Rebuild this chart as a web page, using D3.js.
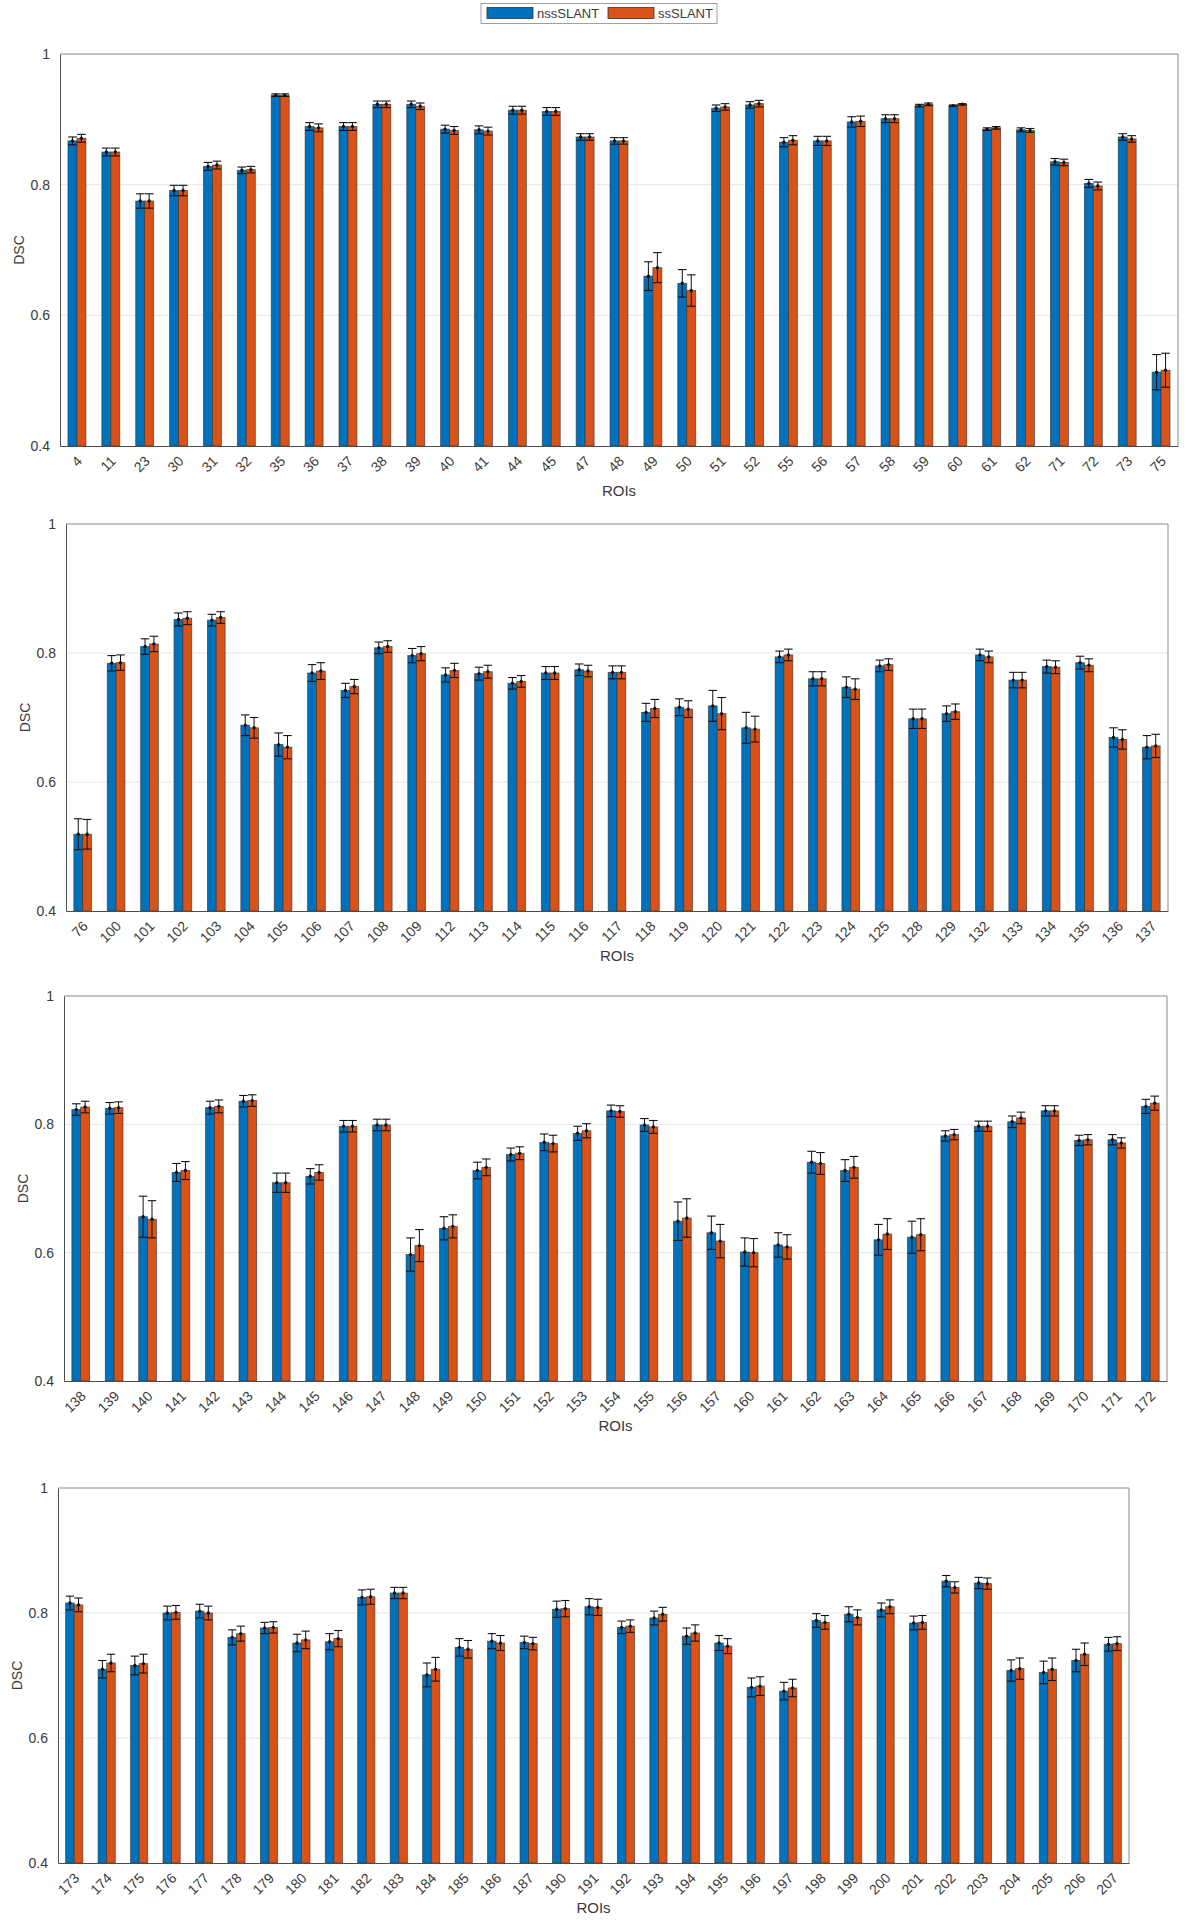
<!DOCTYPE html>
<html>
<head>
<meta charset="utf-8">
<script src="https://cdn.jsdelivr.net/npm/d3@7"></script>
<style>
  html, body { margin: 0; padding: 0; background: #fff; }
  svg { display: block; font-family: "Liberation Sans", Arial, Helvetica, sans-serif; }
</style>
</head>
<body>
<svg id="chart" width="1187" height="1920"></svg>
<script>
// ---------------- data ----------------
const seriesNames = ["nssSLANT", "ssSLANT"];
const yTicks = [0.4, 0.6, 0.8, 1];

const roisP1 = ["4","11","23","30","31","32","35","36","37","38","39","40","41","44","45","47","48","49","50","51","52","55","56","57","58","59","60","61","62","71","72","73","75"];
const nssP1  = [0.867,0.850,0.775,0.791,0.828,0.822,0.937,0.889,0.889,0.923,0.923,0.885,0.884,0.914,0.912,0.873,0.867,0.660,0.649,0.917,0.922,0.865,0.867,0.896,0.901,0.921,0.921,0.885,0.884,0.835,0.802,0.873,0.513];
const ssP1   = [0.871,0.850,0.775,0.791,0.830,0.823,0.937,0.887,0.889,0.923,0.920,0.883,0.882,0.914,0.912,0.873,0.867,0.673,0.638,0.919,0.924,0.868,0.867,0.897,0.901,0.923,0.923,0.887,0.883,0.834,0.798,0.870,0.516];
const nssErrP1 = [0.006,0.006,0.011,0.008,0.006,0.005,0.002,0.006,0.006,0.005,0.005,0.006,0.006,0.006,0.006,0.005,0.005,0.022,0.021,0.005,0.005,0.007,0.007,0.008,0.006,0.002,0.001,0.002,0.003,0.005,0.006,0.005,0.027];
const ssErrP1  = [0.006,0.006,0.011,0.008,0.006,0.005,0.002,0.006,0.006,0.005,0.005,0.006,0.006,0.006,0.006,0.005,0.005,0.023,0.024,0.005,0.005,0.007,0.007,0.008,0.006,0.002,0.001,0.002,0.003,0.005,0.006,0.005,0.026];

const roisP2 = ["76","100","101","102","103","104","105","106","107","108","109","112","113","114","115","116","117","118","119","120","121","122","123","124","125","128","129","132","133","134","135","136","137"];
const nssP2  = [0.519,0.784,0.810,0.852,0.851,0.688,0.658,0.769,0.742,0.808,0.796,0.766,0.768,0.753,0.769,0.774,0.770,0.708,0.716,0.718,0.684,0.794,0.760,0.747,0.780,0.698,0.706,0.797,0.758,0.779,0.785,0.669,0.654];
const ssP2   = [0.519,0.785,0.814,0.854,0.855,0.684,0.654,0.772,0.748,0.810,0.799,0.773,0.771,0.756,0.769,0.772,0.770,0.714,0.713,0.706,0.682,0.797,0.760,0.744,0.782,0.698,0.709,0.794,0.758,0.778,0.781,0.666,0.656];
const nssErrP2 = [0.024,0.012,0.012,0.010,0.009,0.016,0.018,0.013,0.011,0.009,0.011,0.011,0.010,0.009,0.010,0.009,0.010,0.014,0.013,0.024,0.024,0.009,0.011,0.016,0.009,0.015,0.012,0.009,0.012,0.010,0.010,0.015,0.018];
const ssErrP2  = [0.023,0.012,0.012,0.010,0.009,0.016,0.018,0.013,0.011,0.009,0.011,0.011,0.010,0.009,0.010,0.009,0.010,0.014,0.013,0.025,0.020,0.009,0.011,0.016,0.009,0.015,0.012,0.009,0.012,0.010,0.010,0.015,0.018];

const roisP3 = ["138","139","140","141","142","143","144","145","146","147","148","149","150","151","152","153","154","155","156","157","160","161","162","163","164","165","166","167","168","169","170","171","172"];
const nssP3  = [0.823,0.825,0.656,0.725,0.826,0.836,0.709,0.719,0.797,0.799,0.597,0.638,0.728,0.753,0.772,0.786,0.821,0.799,0.649,0.631,0.601,0.612,0.741,0.728,0.620,0.624,0.782,0.797,0.804,0.821,0.775,0.776,0.828];
const ssP3   = [0.827,0.826,0.652,0.728,0.828,0.837,0.709,0.725,0.797,0.799,0.611,0.641,0.733,0.755,0.770,0.790,0.820,0.796,0.654,0.618,0.600,0.609,0.739,0.733,0.629,0.628,0.784,0.797,0.810,0.821,0.776,0.771,0.833];
const nssErrP3 = [0.009,0.009,0.032,0.014,0.010,0.009,0.015,0.012,0.009,0.009,0.026,0.018,0.013,0.010,0.013,0.011,0.009,0.010,0.030,0.026,0.022,0.019,0.017,0.017,0.024,0.025,0.008,0.008,0.009,0.008,0.008,0.008,0.011];
const ssErrP3  = [0.009,0.009,0.029,0.014,0.010,0.009,0.015,0.012,0.009,0.009,0.025,0.018,0.013,0.010,0.013,0.011,0.009,0.010,0.030,0.026,0.022,0.019,0.017,0.017,0.024,0.025,0.008,0.008,0.009,0.008,0.008,0.008,0.011];

const roisP4 = ["173","174","175","176","177","178","179","180","181","182","183","184","185","186","187","190","191","192","193","194","195","196","197","198","199","200","201","202","203","204","205","206","207"];
const nssP4  = [0.816,0.710,0.716,0.800,0.803,0.761,0.776,0.752,0.754,0.825,0.832,0.701,0.745,0.755,0.753,0.806,0.810,0.777,0.792,0.763,0.752,0.681,0.675,0.788,0.798,0.805,0.784,0.851,0.848,0.708,0.705,0.724,0.750];
const ssP4   = [0.813,0.720,0.719,0.801,0.800,0.767,0.777,0.757,0.759,0.826,0.832,0.710,0.742,0.752,0.751,0.807,0.809,0.779,0.798,0.768,0.747,0.683,0.680,0.785,0.793,0.810,0.785,0.841,0.847,0.711,0.710,0.734,0.751];
const nssErrP4 = [0.011,0.014,0.015,0.011,0.011,0.012,0.009,0.014,0.013,0.012,0.009,0.019,0.014,0.012,0.010,0.013,0.013,0.010,0.011,0.013,0.012,0.015,0.014,0.011,0.012,0.011,0.011,0.009,0.009,0.017,0.018,0.018,0.011];
const ssErrP4  = [0.011,0.014,0.015,0.011,0.011,0.012,0.009,0.014,0.013,0.012,0.009,0.019,0.014,0.012,0.010,0.013,0.013,0.010,0.011,0.013,0.012,0.015,0.014,0.011,0.012,0.011,0.011,0.009,0.009,0.017,0.018,0.018,0.011];

// ---------------- layout & style ----------------
const colors = ["#0072BD", "#D95319"];
const textColor = "#3a3a3a";
const panels = [
  { rois: roisP1, means: [nssP1, ssP1], errs: [nssErrP1, ssErrP1], left: 60, right: 1178, top: 54, bottom: 446 },
  { rois: roisP2, means: [nssP2, ssP2], errs: [nssErrP2, ssErrP2], left: 66, right: 1168, top: 524, bottom: 911 },
  { rois: roisP3, means: [nssP3, ssP3], errs: [nssErrP3, ssErrP3], left: 64, right: 1167, top: 996, bottom: 1381 },
  { rois: roisP4, means: [nssP4, ssP4], errs: [nssErrP4, ssErrP4], left: 58, right: 1129, top: 1488, bottom: 1863 }
];

const svg = d3.select("#chart");

panels.forEach(p => {
  const g = svg.append("g");
  const y = d3.scaleLinear().domain([0.4, 1]).range([p.bottom, p.top]);
  const x0 = d3.scaleBand().domain(p.rois).range([p.left, p.right]).paddingInner(0).paddingOuter(0);
  const step = x0.bandwidth();
  const x1 = d3.scaleBand().domain([0, 1]).range([step * 0.235, step * 0.765]).padding(0);
  const bw = x1.bandwidth();

  // grid lines
  g.append("g").selectAll("line").data(yTicks.filter(t => t > 0.4 && t < 1)).join("line")
    .attr("x1", p.left).attr("x2", p.right)
    .attr("y1", d => y(d)).attr("y2", d => y(d))
    .attr("stroke", "#e6e6e6").attr("stroke-width", 1);

  // bars
  const rows = p.rois.map((r, i) => ({ roi: r, i }));
  [0, 1].forEach(s => {
    g.append("g").selectAll("rect").data(rows).join("rect")
      .attr("x", d => x0(d.roi) + x1(s))
      .attr("y", d => y(p.means[s][d.i]))
      .attr("width", bw)
      .attr("height", d => p.bottom - y(p.means[s][d.i]))
      .attr("fill", colors[s])
      .attr("stroke", "#333").attr("stroke-opacity", 0.75).attr("stroke-width", 0.8);
  });

  // error bars
  [0, 1].forEach(s => {
    const eg = g.append("g").selectAll("g").data(rows).join("g");
    const cx = d => x0(d.roi) + x1(s) + bw / 2;
    eg.append("line")
      .attr("x1", cx).attr("x2", cx)
      .attr("y1", d => y(p.means[s][d.i] - p.errs[s][d.i]))
      .attr("y2", d => y(p.means[s][d.i] + p.errs[s][d.i]))
      .attr("stroke", "#111").attr("stroke-width", 1);
    [-1, 1].forEach(sg => {
      eg.append("line")
        .attr("x1", d => cx(d) - bw * 0.48).attr("x2", d => cx(d) + bw * 0.48)
        .attr("y1", d => y(p.means[s][d.i] + sg * p.errs[s][d.i]))
        .attr("y2", d => y(p.means[s][d.i] + sg * p.errs[s][d.i]))
        .attr("stroke", "#111").attr("stroke-width", 1.1);
    });
    eg.append("circle")
      .attr("cx", cx).attr("cy", d => y(p.means[s][d.i]))
      .attr("r", 1.7).attr("fill", "#111");
  });

  // box (top/right lighter)
  g.append("line").attr("x1", p.left).attr("x2", p.right).attr("y1", p.top).attr("y2", p.top)
    .attr("stroke", "#8a8a8a").attr("stroke-width", 1);
  g.append("line").attr("x1", p.right).attr("x2", p.right).attr("y1", p.top).attr("y2", p.bottom)
    .attr("stroke", "#8a8a8a").attr("stroke-width", 1);

  // y axis
  const ya = g.append("g").attr("transform", `translate(${p.left},0)`)
    .call(d3.axisLeft(y).tickValues(yTicks).tickFormat(d3.format("")).tickSize(0).tickPadding(10));
  ya.select(".domain").attr("stroke", "#4d4d4d");
  ya.selectAll("text").attr("fill", textColor).attr("font-size", 14)
    .attr("font-family", "'Liberation Sans', Arial, sans-serif");

  // x axis
  const xa = g.append("g").attr("transform", `translate(0,${p.bottom})`)
    .call(d3.axisBottom(x0).tickSize(0).tickPadding(0));
  xa.select(".domain").attr("stroke", "#4d4d4d");
  xa.selectAll("text")
    .attr("fill", textColor).attr("font-size", 14)
    .attr("font-family", "'Liberation Sans', Arial, sans-serif")
    .attr("text-anchor", "end")
    .attr("dy", 0)
    .attr("transform", "translate(6,16) rotate(-45)");

  // axis titles
  g.append("text")
    .attr("transform", `translate(${p.left - 36},${(p.top + p.bottom) / 2}) rotate(-90)`)
    .attr("text-anchor", "middle")
    .attr("fill", textColor).attr("font-size", 14)
    .text("DSC");
  g.append("text")
    .attr("x", (p.left + p.right) / 2).attr("y", p.bottom + 50)
    .attr("text-anchor", "middle")
    .attr("fill", textColor).attr("font-size", 15)
    .text("ROIs");
});

// legend
const lg = svg.append("g");
lg.append("rect").attr("x", 481).attr("y", 3.5).attr("width", 236).attr("height", 20)
  .attr("fill", "#fff").attr("stroke", "#a0a0a0").attr("stroke-width", 1);
const legendX = [487, 608];
seriesNames.forEach((name, i) => {
  lg.append("rect").attr("x", legendX[i]).attr("y", 7.5).attr("width", 46).attr("height", 11)
    .attr("fill", colors[i]).attr("stroke", "#333").attr("stroke-width", 0.8);
  lg.append("text").attr("x", legendX[i] + 50).attr("y", 18)
    .attr("fill", textColor).attr("font-size", 13).text(name);
});
</script>
</body>
</html>
